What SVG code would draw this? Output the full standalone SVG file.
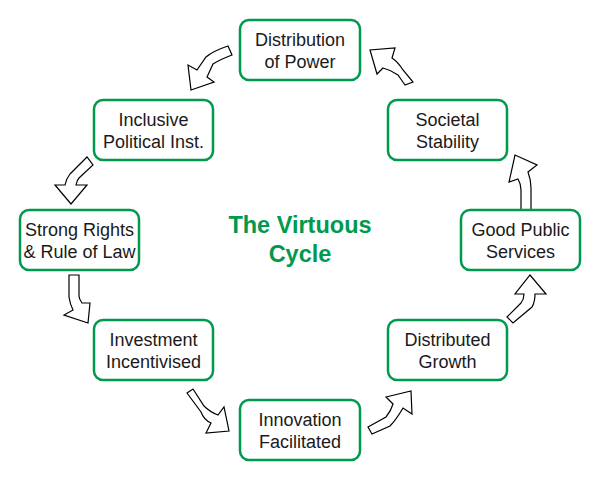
<svg xmlns="http://www.w3.org/2000/svg" width="601" height="481" viewBox="0 0 601 481">
<style>
.box{fill:#fff;stroke:#00994D;stroke-width:2.5}
.t{font-family:"Liberation Sans",Arial,sans-serif;font-size:18px;fill:#1a1a1a;text-anchor:middle}
.title{font-family:"Liberation Sans",Arial,sans-serif;font-size:23.5px;font-weight:bold;fill:#00994D;text-anchor:middle}
.arr{fill:#fff;stroke:#000;stroke-width:1.2;stroke-linejoin:miter}
</style>
<rect width="601" height="481" fill="#fff"/>
<g id="connectors">
<path class="arr" d="M228,46 Q213,51 206,57 L197,70 L188,65 L191,90 L214,82 L207,77 L213,64 Q219,60 232,55 Z"/>
<path class="arr" d="M87,157 L70,174 Q66,179 65,185 L55,185 L71,204 L87,185 L76,185 Q77,180 79,178 L93,165 Z"/>
<path class="arr" d="M69,275 L69,297 Q70,304 73,310 L64,315 L88,323 L90,303 L82,303 Q79,299 79,296 L79,275 Z"/>
<path class="arr" d="M187,393 L193,389 L204,406 Q210,412 218,415 L224,407 L229,431 L206,433 L211,423 Q204,420 201,412 Z"/>
<path class="arr" d="M368,427 L386,417 Q391,411 393,404 L386,397 L411,391 L412,414 L403,408 Q396,420 390,426 L372,434 Z"/>
<path class="arr" d="M507,317 L521,303 Q524,299 524,294 L515,294 L530,275 L546,294 L535,294 Q535,302 532,307 L513,323 Z"/>
<path class="arr" d="M521,222 L521,190 Q521,184 518,179 L509,182 L515,155 L537,165 L528,172 Q531,180 531,188 L531,222 Z"/>
<path class="arr" d="M405,85 L398,75 Q391,70 383,68 L377,74 L370,50 L395,48 L392,58 Q398,62 403,70 L413,82 Z"/>
</g>
<g id="n1"><rect class="box" x="240" y="20" width="120" height="60" rx="9"/><text class="t" x="300" y="46">Distribution</text><text class="t" x="300" y="67.5">of Power</text></g>
<g id="n2"><rect class="box" x="94" y="100" width="119" height="60" rx="9"/><text class="t" x="153.5" y="126">Inclusive</text><text class="t" x="153.5" y="147.5">Political Inst.</text></g>
<g id="n3"><rect class="box" x="20" y="210" width="119" height="60" rx="9"/><text class="t" x="79.5" y="236">Strong Rights</text><text class="t" x="79.5" y="257.5">&amp; Rule of Law</text></g>
<g id="n4"><rect class="box" x="94" y="320" width="119" height="60" rx="9"/><text class="t" x="153.5" y="346">Investment</text><text class="t" x="153.5" y="367.5">Incentivised</text></g>
<g id="n5"><rect class="box" x="240" y="400" width="120" height="60" rx="9"/><text class="t" x="300" y="426">Innovation</text><text class="t" x="300" y="447.5">Facilitated</text></g>
<g id="n6"><rect class="box" x="388" y="320" width="119" height="60" rx="9"/><text class="t" x="447.5" y="346">Distributed</text><text class="t" x="447.5" y="367.5">Growth</text></g>
<g id="n7"><rect class="box" x="461" y="210" width="119" height="60" rx="9"/><text class="t" x="520.5" y="236">Good Public</text><text class="t" x="520.5" y="257.5">Services</text></g>
<g id="n8"><rect class="box" x="388" y="100" width="119" height="60" rx="9"/><text class="t" x="447.5" y="126">Societal</text><text class="t" x="447.5" y="147.5">Stability</text></g>
<g id="title"><text class="title" x="300" y="233">The Virtuous</text><text class="title" x="300" y="262">Cycle</text></g>
</svg>
